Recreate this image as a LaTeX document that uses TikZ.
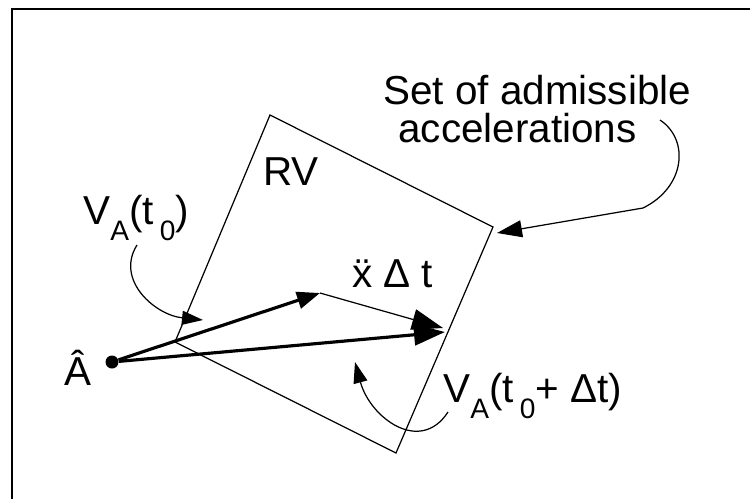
\documentclass[tikz,border=0pt]{standalone}
\usepackage{fontspec}
\setmainfont{Liberation Sans}
\usetikzlibrary{arrows.meta}
\newcommand{\lowsub}[1]{\raisebox{-0.4em}{\fontsize{16}{16}\selectfont #1}}

\begin{document}
\begin{tikzpicture}[every node/.style={font=\fontsize{23}{20}\selectfont, inner sep=0pt}]
\tikzset{thinline/.style={line width=0.7pt}}
\tikzset{vecline/.style={line width=1.8pt, -{Triangle[length=4.6mm, width=3.4mm]}}}
\tikzset{bigvec/.style={line width=1.8pt, -{Triangle[length=6.2mm, width=4.2mm]}}}
\tikzset{pointer/.style={line width=0.7pt, -{Triangle[length=4.2mm, width=2.8mm]}}}
\useasboundingbox (0,0) rectangle (15,-9.98);
\draw[line width=1.4pt] (0.24,-9.98) -- (0.24,-0.18) -- (15,-0.18);
% region RV
\coordinate (lc) at (3.50,-6.84);
\coordinate (tc) at (5.40,-2.30);
\coordinate (rc) at (9.86,-4.54);
\coordinate (bc) at (7.92,-9.06);
\draw[thinline] (lc) -- (tc) -- (rc) -- (bc) -- cycle;
% velocities
\node[circle, fill, minimum size=0.26cm] (dot) at (2.24,-7.24) {};
\coordinate (acc) at (6.40,-5.86);
\coordinate (sumtip) at (8.90,-6.64);
\coordinate (sumtop) at (8.86,-6.56);
\draw[vecline] (dot) -- (acc);
\draw[bigvec] (dot) -- (sumtip);
\draw[thinline, -{Triangle[length=6.2mm, width=4.2mm]}] (acc) -- (sumtop);
% labels
\node[anchor=base west] (setlbl) at (7.66,-2.08) {Set of admissible};
\node[anchor=base west] (acclbl) at (7.96,-2.84) {accelerations};
\node[anchor=base west] (rv) at (5.26,-3.70) {RV};
\node[anchor=base west] (xdt) at (7.04,-5.74) {\"x Δ t};
\node[anchor=base west] (vt0) at (1.66,-4.48) {V\lowsub{A}(t\hspace{0.15em}\lowsub{0})};
\node[anchor=base west] (vtd) at (8.86,-8.04) {V\lowsub{A}(t\hspace{0.15em}\lowsub{0}+ Δt)};
\node[anchor=base west] (ahat) at (1.28,-7.70) {Â};
% pointers
\coordinate (p1s) at (2.74,-4.90);
\coordinate (p1e) at (4.06,-6.40);
\coordinate (p2s) at (8.96,-8.24);
\coordinate (p2e) at (7.10,-7.24);
\coordinate (p3s) at (13.20,-2.40);
\coordinate (p3m) at (12.86,-4.16);
\coordinate (p3e) at (9.94,-4.66);
\draw[pointer] (p1s) .. controls (2.30,-5.60) and (3.10,-6.30) .. (p1e);
\draw[pointer] (p2s) .. controls (8.40,-9.10) and (7.40,-8.35) .. (p2e);
\draw[pointer, -{Triangle[length=5mm, width=3.4mm]}] (p3s) .. controls (13.80,-2.80) and (13.70,-3.75) .. (p3m) -- (p3e);
\end{tikzpicture}
\end{document}
